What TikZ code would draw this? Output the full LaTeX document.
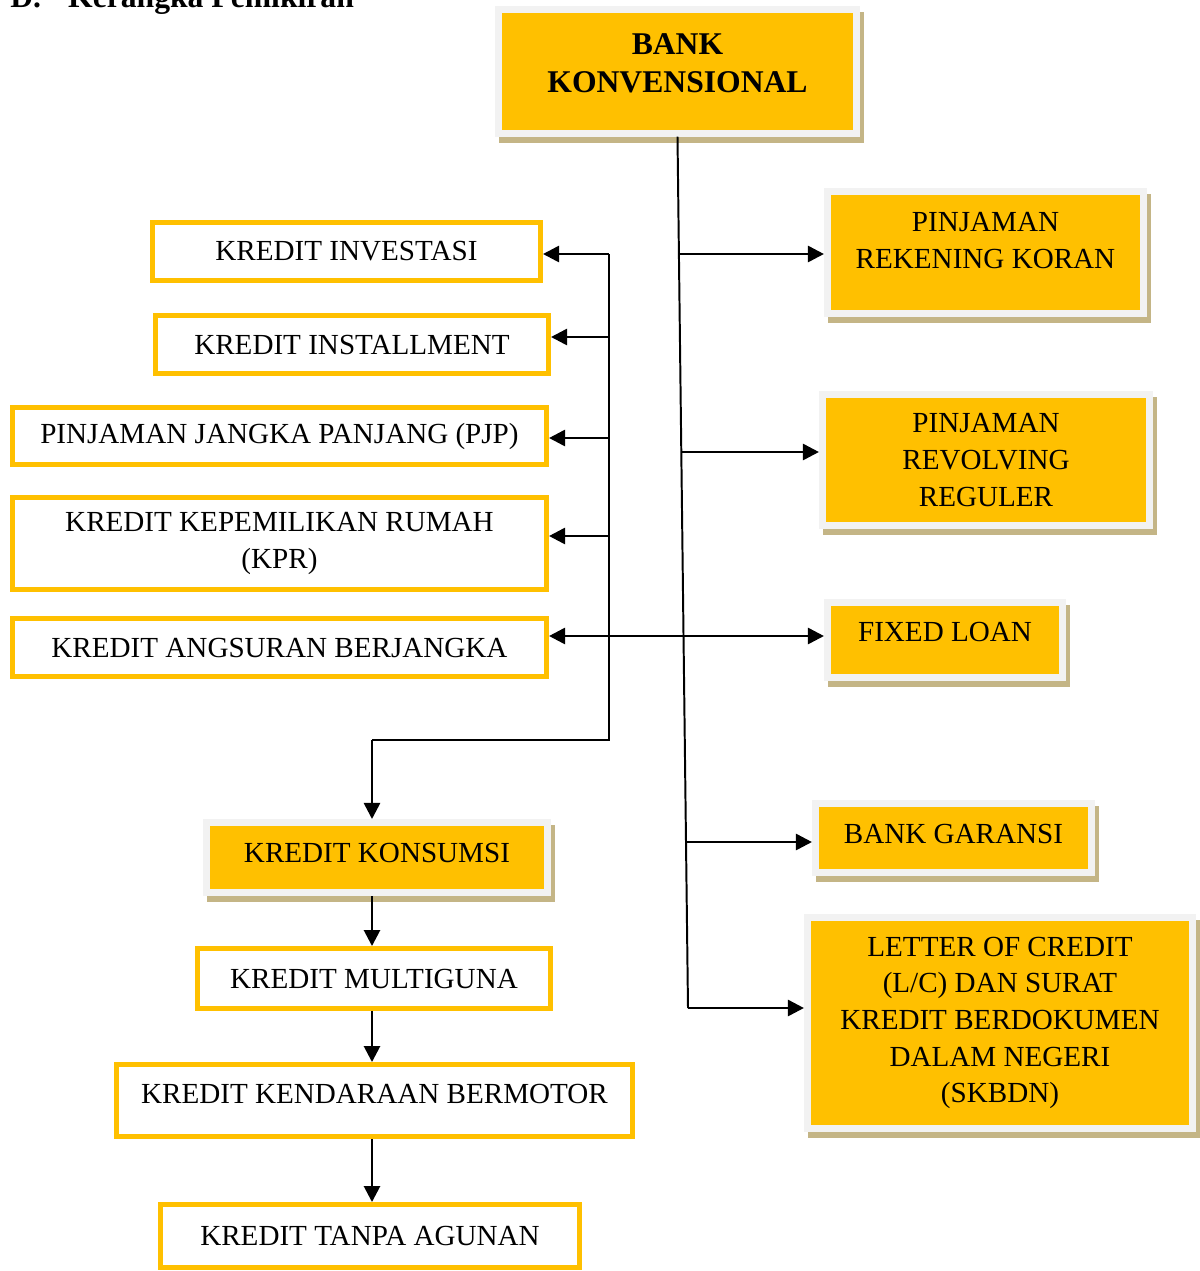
\documentclass[tikz,border=0pt]{standalone}
\usepackage{fontspec}
\setmainfont{Liberation Serif}
\usepackage{xcolor}
\usetikzlibrary{arrows.meta,shadows}
\definecolor{kyellow}{RGB}{255,192,0}
\definecolor{kframe}{RGB}{242,242,242}
\definecolor{kshadow}{RGB}{196,181,134}

\begin{document}
\begin{tikzpicture}[
  x=0.025cm, y=-0.025cm,
  credit/.style={draw=kyellow, fill=white, line width=3.5pt, inner sep=0pt, align=center, font=\fontsize{20.7}{26}\selectfont},
  bankbox/.style={draw=kframe, fill=kyellow, line width=0.175cm, inner sep=0pt, align=center, font=\fontsize{20.7}{26}\selectfont,
    drop shadow={shadow xshift=0.1cm, shadow yshift=-0.15cm, fill=kshadow, draw=kshadow, line width=0.175cm, opacity=1}},
  lift/.style={text depth=#1},
  arr/.style={-{Triangle[length=0.4cm,width=0.4cm]}, line width=1.9pt},
  dblarr/.style={{Triangle[length=0.4cm,width=0.4cm]}-{Triangle[length=0.4cm,width=0.4cm]}, line width=1.9pt},
  spine/.style={line width=1.4pt}
]
\useasboundingbox (0,0) rectangle (1199,1271);

\node[anchor=base west, inner sep=0pt, font=\fontsize{22.5}{27}\selectfont\bfseries] (title) at (10,7) {D.\hspace{0.68cm}Kerangka Pemikiran};

\node[bankbox, minimum width=8.95cm, minimum height=3.075cm, lift=0.425cm, font=\fontsize{22.5}{27.5}\selectfont\bfseries] (bank) at (677.5,71.5) {BANK\\KONVENSIONAL};
\node[bankbox, minimum width=7.9cm, minimum height=3.05cm, lift=0.6cm] (rek) at (985.5,252.5) {PINJAMAN\\REKENING KORAN};
\node[bankbox, minimum width=8.175cm, minimum height=3.275cm] (rev) at (986,460) {PINJAMAN\\REVOLVING\\REGULER};
\node[bankbox, minimum width=5.875cm, minimum height=1.875cm, lift=0.4cm] (fixed) at (945,640) {FIXED LOAN};
\node[bankbox, minimum width=6.9cm, minimum height=1.725cm, lift=0.2cm] (garansi) at (953.5,838) {BANK GARANSI};
\node[bankbox, minimum width=9.625cm, minimum height=5.275cm] (lc) at (1000,1023) {LETTER OF CREDIT\\(L/C) DAN SURAT\\KREDIT BERDOKUMEN\\DALAM NEGERI\\(SKBDN)};
\node[bankbox, minimum width=8.525cm, minimum height=1.75cm, lift=0.225cm] (kons) at (377,857.5) {KREDIT KONSUMSI};

\node[credit, minimum width=9.7cm, minimum height=1.45cm] (inv) at (346.5,251.5) {KREDIT INVESTASI};
\node[credit, minimum width=9.825cm, minimum height=1.45cm] (inst) at (352,344.5) {KREDIT INSTALLMENT};
\node[credit, minimum width=13.35cm, minimum height=1.425cm] (pjp) at (279.5,436) {PINJAMAN JANGKA PANJANG (PJP)};
\node[credit, minimum width=13.35cm, minimum height=2.3cm] (kpr) at (279.5,543.5) {KREDIT KEPEMILIKAN RUMAH\\(KPR)};
\node[credit, minimum width=13.35cm, minimum height=1.45cm] (angs) at (279.5,647.5) {KREDIT ANGSURAN BERJANGKA};
\node[credit, minimum width=8.825cm, minimum height=1.5cm] (multi) at (374,978.5) {KREDIT MULTIGUNA};
\node[credit, minimum width=12.9cm, minimum height=1.8cm, lift=0.325cm] (kend) at (374.5,1100.5) {KREDIT KENDARAAN BERMOTOR};
\node[credit, minimum width=10.475cm, minimum height=1.575cm] (tanpa) at (370,1236) {KREDIT TANPA AGUNAN};

\coordinate (s1) at (679.4,254);
\coordinate (s2) at (681.7,452);
\coordinate (s4) at (686.1,842);
\coordinate (s5) at (688,1008);
\coordinate (b1) at (609,254);
\coordinate (b2) at (609,337);
\coordinate (b3) at (609,438);
\coordinate (b4) at (609,536);
\coordinate (b5) at (609,636);
\coordinate (b6) at (609,740);
\coordinate (k1) at (372,740);

\draw[spine] (bank.south) -- (s5);
\draw[arr] (s1) -- (s1 -| rek.west);
\draw[arr] (s2) -- (s2 -| rev.west);
\draw[arr] (s4) -- (s4 -| garansi.west);
\draw[arr] (s5) -- (s5 -| lc.west);

\draw[spine] (b1) -- (b6) -- (k1);
\draw[arr] (b1) -- (b1 -| inv.east);
\draw[arr] (b2) -- (b2 -| inst.east);
\draw[arr] (b3) -- (b3 -| pjp.east);
\draw[arr] (b4) -- (b4 -| kpr.east);
\draw[dblarr] (angs.east |- b5) -- (fixed.west |- b5);

\draw[arr] (k1) -- (k1 |- kons.north);
\draw[arr] (kons.south -| k1) -- (multi.north -| k1);
\draw[arr] (multi.south -| k1) -- (kend.north -| k1);
\draw[arr] (kend.south -| k1) -- (tanpa.north -| k1);
\end{tikzpicture}
\end{document}
